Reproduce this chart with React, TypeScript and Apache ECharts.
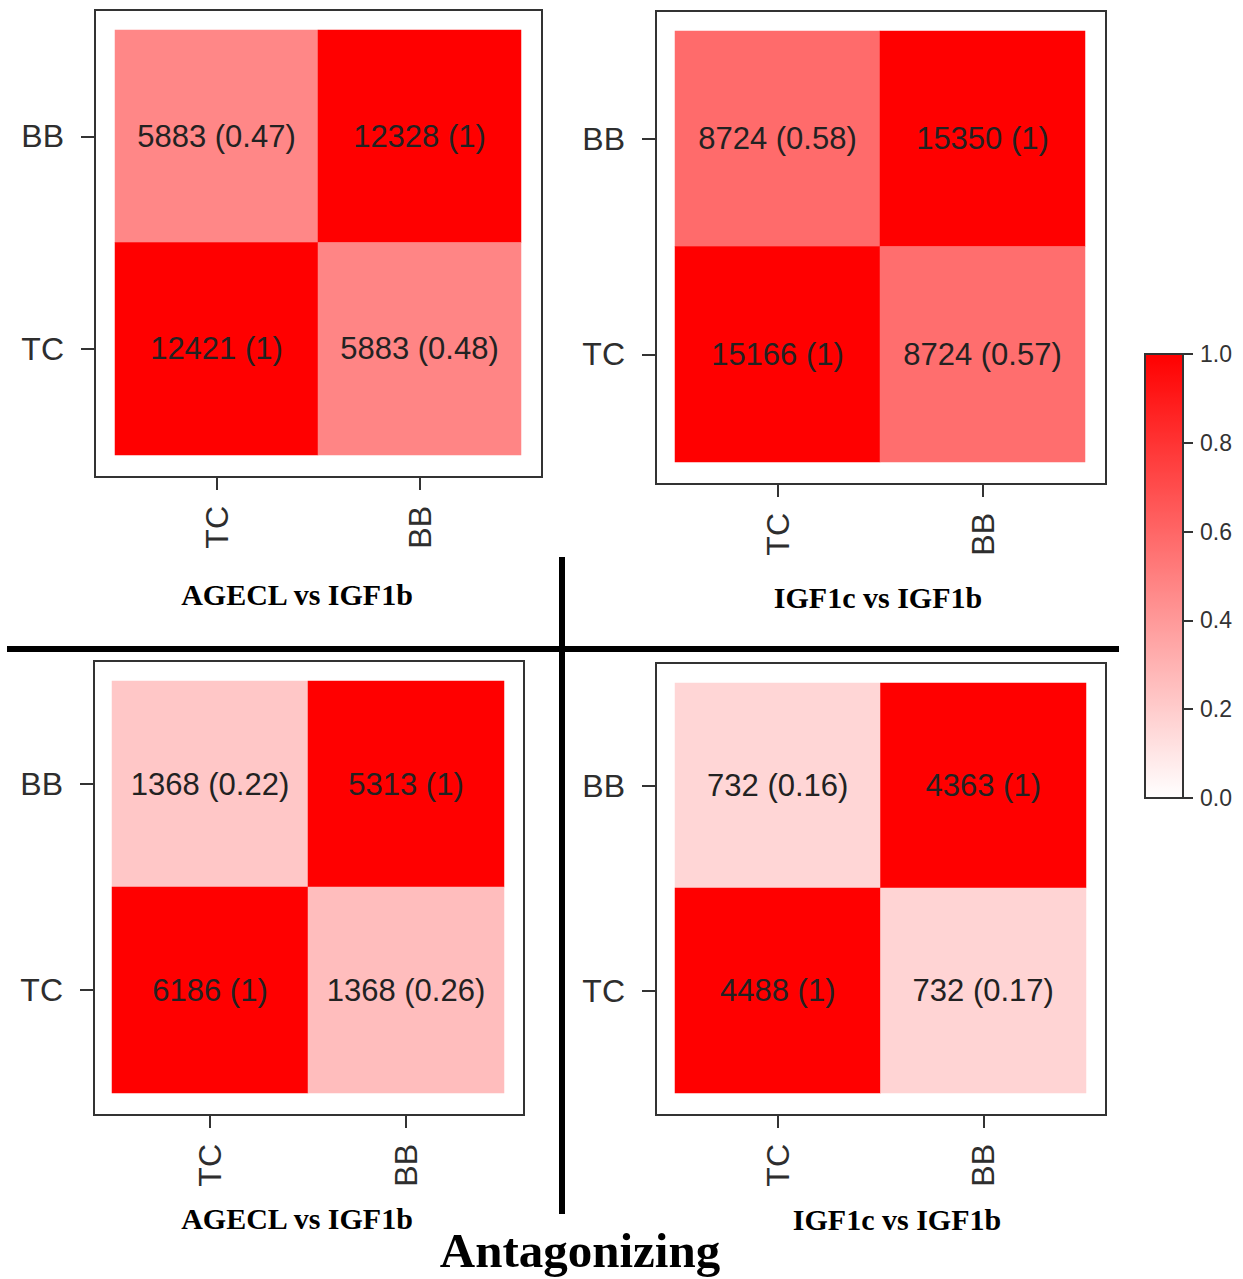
import React, { useEffect, useRef } from "react";
import * as echarts from "echarts";

const xCats = ["TC", "BB"];
const yCats = ["TC", "BB"];
const titles = ["AGECL vs IGF1b", "IGF1c vs IGF1b", "AGECL vs IGF1b", "IGF1c vs IGF1b"];
// order of cells: [x, y] = [TC,BB], [BB,BB], [TC,TC], [BB,TC]
const cellPos = [[0, 1], [1, 1], [0, 0], [1, 0]];
const counts1 = [5883, 12328, 12421, 5883];
const corr1 = [0.47, 1, 1, 0.48];
const counts2 = [8724, 15350, 15166, 8724];
const corr2 = [0.58, 1, 1, 0.57];
const counts3 = [1368, 5313, 6186, 1368];
const corr3 = [0.22, 1, 1, 0.26];
const counts4 = [732, 4363, 4488, 732];
const corr4 = [0.16, 1, 1, 0.17];
const colorbarTicks = [0, 0.2, 0.4, 0.6, 0.8, 1.0];
const mainTitle = "Antagonizing";

export default function App() {
  const ref = useRef<HTMLDivElement>(null);
  useEffect(() => {
    if (!ref.current) return;
    const chart = echarts.init(ref.current, null, { renderer: "svg" });
    const panels = [
      { counts: counts1, corr: corr1, grid: { left: 115, top: 30, width: 406, height: 425 }, box: [95, 10, 447, 467], xo: 22, yo: 20, title: [297, 594] },
      { counts: counts2, corr: corr2, grid: { left: 675, top: 31, width: 410, height: 431 }, box: [656, 11, 450, 473], xo: 22, yo: 19, title: [878, 597] },
      { counts: counts3, corr: corr3, grid: { left: 112, top: 681, width: 392, height: 412 }, box: [94, 661, 430, 454], xo: 22, yo: 18, title: [297, 1218] },
      { counts: counts4, corr: corr4, grid: { left: 675, top: 683, width: 411, height: 410 }, box: [656, 663, 450, 452], xo: 22, yo: 19, title: [897, 1219] },
    ];
    const axisTxt = { color: "#2e2e2e", fontSize: 32, fontFamily: "Liberation Sans, Arial, sans-serif" };
    const grids: any[] = panels.map((p) => ({ ...p.grid }));
    grids.push({ left: 1145, top: 354, width: 38, height: 444, show: false, z: 10 });
    const xAxes: any[] = panels.map((p, i) => ({
      type: "category", gridIndex: i, data: xCats, position: "bottom", offset: p.xo,
      axisLine: { show: false },
      axisTick: { show: true, length: 13, alignWithLabel: true, lineStyle: { color: "#333", width: 2 } },
      axisLabel: { ...axisTxt, rotate: 90, margin: 29 },
      splitLine: { show: false },
    }));
    xAxes.push({ type: "value", gridIndex: 4, show: false, min: 0, max: 1 });
    const yAxes: any[] = panels.map((p, i) => ({
      type: "category", gridIndex: i, data: yCats, position: "left", offset: p.yo,
      axisLine: { show: false },
      axisTick: { show: true, length: 14, alignWithLabel: true, lineStyle: { color: "#333", width: 2 } },
      axisLabel: { ...axisTxt, margin: 31 },
      splitLine: { show: false },
    }));
    yAxes.push({
      type: "value", gridIndex: 4, position: "right", min: 0, max: 1, interval: 0.2, z: 10,
      axisLine: { show: false, onZero: false },
      axisTick: { show: true, length: 10, inside: false, lineStyle: { color: "#333", width: 2 } },
      axisLabel: { color: "#333", fontSize: 23, margin: 17, fontFamily: "Liberation Sans, Arial, sans-serif", formatter: (v: number) => (colorbarTicks.includes(v) ? v.toFixed(1) : "") },
      splitLine: { show: false },
    });
    const series: any[] = panels.map((p, i) => ({
      type: "heatmap", xAxisIndex: i, yAxisIndex: i,
      data: cellPos.map((c, k) => [c[0], c[1], p.counts[k], p.corr[k]]),
      label: {
        show: true, fontSize: 31, color: "#222", fontFamily: "Liberation Sans, Arial, sans-serif",
        formatter: (d: any) => `${d.value[2]} (${d.value[3]})`,
      },
      itemStyle: { borderWidth: 0 },
      emphasis: { disabled: true },
    }));
    const graphic: any[] = [];
    panels.forEach((p, i) => {
      graphic.push({ type: "rect", shape: { x: p.box[0], y: p.box[1], width: p.box[2], height: p.box[3] }, style: { fill: "none", stroke: "#333", lineWidth: 2 }, z: 10 });
      graphic.push({ type: "text", x: p.title[0], y: p.title[1], style: { text: titles[i], fontSize: 30, fontWeight: "bold", fontFamily: "Liberation Serif, Times New Roman, serif", fill: "#000", align: "center", verticalAlign: "middle" } });
    });
    graphic.push({ type: "rect", shape: { x: 1145, y: 354, width: 38, height: 444 }, style: { fill: "none", stroke: "#333", lineWidth: 2 }, z: 10 });
    graphic.push({ type: "rect", shape: { x: 559, y: 557, width: 6, height: 657 }, style: { fill: "#000" }, z: 10 });
    graphic.push({ type: "rect", shape: { x: 7, y: 646, width: 1112, height: 6 }, style: { fill: "#000" }, z: 10 });
    graphic.push({ type: "text", x: 580, y: 1250, style: { text: mainTitle, fontSize: 49, fontWeight: "bold", fontFamily: "Liberation Serif, Times New Roman, serif", fill: "#000", align: "center", verticalAlign: "middle" }, z: 10 });

    chart.setOption({
      animation: false,
      backgroundColor: "#fff",
      grid: grids,
      xAxis: xAxes,
      yAxis: yAxes,
      visualMap: {
        type: "continuous", min: 0, max: 1, dimension: 3, seriesIndex: [0, 1, 2, 3],
        calculable: false, hoverLink: false, text: ["", ""], showLabel: false,
        left: 1145, top: 354, itemWidth: 38, itemHeight: 444, padding: 0, z: 1,
        inRange: { color: ["#ffffff", "#ff0000"] },
      },
      series,
      graphic,
    });
    return () => chart.dispose();
  }, []);
  return <div ref={ref} style={{ position: "absolute", left: 0, top: 0, width: 1243, height: 1279 }} />;
}
